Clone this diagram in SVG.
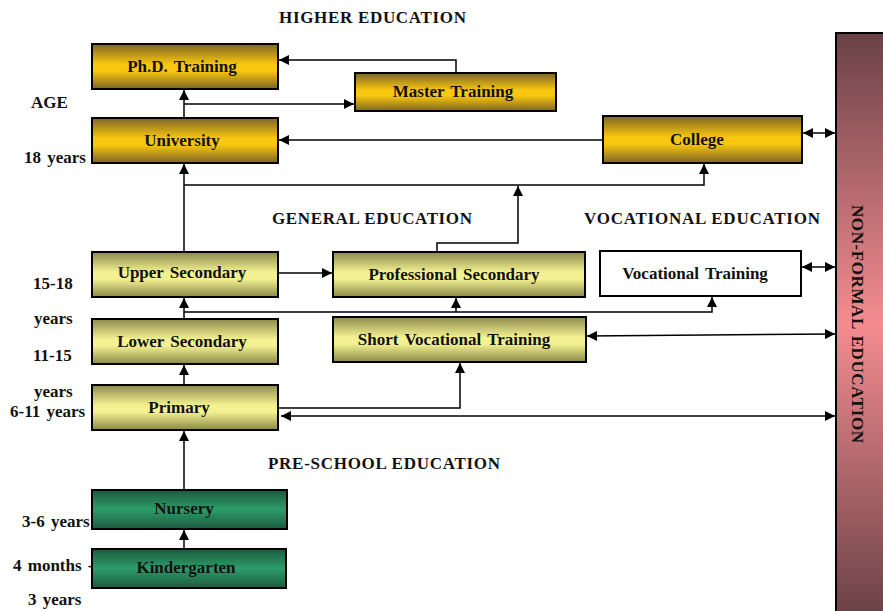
<svg xmlns="http://www.w3.org/2000/svg" width="883" height="611" viewBox="0 0 883 611">
  <defs>
    <linearGradient id="gold" x1="0" y1="0" x2="0" y2="1">
      <stop offset="0" stop-color="#7d6426"/>
      <stop offset="0.45" stop-color="#f8c70f"/>
      <stop offset="0.6" stop-color="#f8c70f"/>
      <stop offset="1" stop-color="#7d6426"/>
    </linearGradient>
    <linearGradient id="lime" x1="0" y1="0" x2="0" y2="1">
      <stop offset="0" stop-color="#8c8a4c"/>
      <stop offset="0.45" stop-color="#f3f192"/>
      <stop offset="0.6" stop-color="#f3f192"/>
      <stop offset="1" stop-color="#8a8848"/>
    </linearGradient>
    <linearGradient id="green" x1="0" y1="0" x2="0" y2="1">
      <stop offset="0" stop-color="#1d5a3e"/>
      <stop offset="0.5" stop-color="#2d9c68"/>
      <stop offset="1" stop-color="#1d5a3e"/>
    </linearGradient>
    <linearGradient id="pink" x1="0" y1="0" x2="0" y2="1">
      <stop offset="0" stop-color="#6a4247"/>
      <stop offset="0.5" stop-color="#f48c90"/>
      <stop offset="1" stop-color="#6a4247"/>
    </linearGradient>
    <marker id="ah" viewBox="0 0 10 10" refX="10" refY="5" markerWidth="10" markerHeight="10" markerUnits="userSpaceOnUse" orient="auto-start-reverse">
      <path d="M0,0 L10,5 L0,10 z" fill="#000"/>
    </marker>
    <style>
      .box { stroke: #000; stroke-width: 2; }
      .lbl { font-family: "Liberation Serif", "Times New Roman", serif; font-weight: bold; font-size: 17px; fill: #111; text-anchor: middle; dominant-baseline: central; word-spacing: 2px; }
      .age { font-family: "Liberation Serif", "Times New Roman", serif; font-weight: bold; font-size: 17px; fill: #111; word-spacing: 2px; }
      .sec { font-family: "Liberation Serif", "Times New Roman", serif; font-weight: bold; font-size: 17px; fill: #111; }
      .ln { fill: none; stroke: #000; stroke-width: 1.5; }
    </style>
  </defs>

  <rect width="883" height="611" fill="#fff"/>

  <!-- section headings -->
  <text class="sec" x="279" y="23" textLength="187">HIGHER EDUCATION</text>
  <text class="sec" x="272" y="224" textLength="200">GENERAL EDUCATION</text>
  <text class="sec" x="584" y="224" textLength="236">VOCATIONAL EDUCATION</text>
  <text class="sec" x="268" y="469" textLength="232">PRE-SCHOOL EDUCATION</text>

  <!-- age column -->
  <text class="age" x="31" y="108">AGE</text>
  <text class="age" x="24" y="163">18 years</text>
  <text class="age" x="33" y="289">15-18</text>
  <text class="age" x="34" y="324">years</text>
  <text class="age" x="33" y="361">11-15</text>
  <text class="age" x="34" y="397">years</text>
  <text class="age" x="10" y="417">6-11 years</text>
  <text class="age" x="22" y="527">3-6 years</text>
  <text class="age" x="13" y="571" word-spacing="0">4 months -</text>
  <text class="age" x="28" y="605">3 years</text>

  <!-- connectors -->
  <g id="connectors">
    <polyline class="ln" points="456,73 456,60 279,60" marker-end="url(#ah)"/>
    <line class="ln" x1="184" y1="118" x2="184" y2="90" marker-end="url(#ah)"/>
    <polyline class="ln" points="184,104 354,104" marker-end="url(#ah)"/>
    <line class="ln" x1="603" y1="140" x2="279" y2="140" marker-end="url(#ah)"/>
    <line class="ln" x1="184" y1="252" x2="184" y2="164" marker-end="url(#ah)"/>
    <polyline class="ln" points="184,185 704,185 704,164" marker-end="url(#ah)"/>
    <polyline class="ln" points="437,252 437,243 518,243 518,186" marker-end="url(#ah)"/>
    <line class="ln" x1="278" y1="273" x2="332" y2="273" marker-end="url(#ah)"/>
    <line class="ln" x1="184" y1="319" x2="184" y2="298" marker-end="url(#ah)"/>
    <polyline class="ln" points="184,312 712,312 712,297" marker-end="url(#ah)"/>
    <line class="ln" x1="456" y1="312" x2="456" y2="298" marker-end="url(#ah)"/>
    <line class="ln" x1="184" y1="385" x2="184" y2="365" marker-end="url(#ah)"/>
    <polyline class="ln" points="278,408 460,408 460,363" marker-end="url(#ah)"/>
    <line class="ln" x1="281" y1="416" x2="835" y2="416" marker-start="url(#ah)" marker-end="url(#ah)"/>
    <line class="ln" x1="587" y1="336" x2="835" y2="334" marker-start="url(#ah)" marker-end="url(#ah)"/>
    <line class="ln" x1="803" y1="133" x2="835" y2="133" marker-start="url(#ah)" marker-end="url(#ah)"/>
    <line class="ln" x1="802" y1="267" x2="835" y2="267" marker-start="url(#ah)" marker-end="url(#ah)"/>
    <line class="ln" x1="184" y1="490" x2="184" y2="431" marker-end="url(#ah)"/>
    <line class="ln" x1="184" y1="549" x2="184" y2="530" marker-end="url(#ah)"/>
  </g>

  <!-- higher education -->
  <g id="phd">
    <rect class="box" x="92" y="44" width="186" height="45" fill="url(#gold)"/>
    <text class="lbl" x="182" y="66">Ph.D. Training</text>
  </g>
  <g id="master">
    <rect class="box" x="355" y="73" width="201" height="38" fill="url(#gold)"/>
    <text class="lbl" x="453" y="91">Master Training</text>
  </g>
  <g id="university">
    <rect class="box" x="92" y="118" width="186" height="45" fill="url(#gold)"/>
    <text class="lbl" x="182" y="140">University</text>
  </g>
  <g id="college">
    <rect class="box" x="603" y="116" width="199" height="47" fill="url(#gold)"/>
    <text class="lbl" x="697" y="139">College</text>
  </g>

  <!-- general and vocational education -->
  <g id="upper-secondary">
    <rect class="box" x="92" y="252" width="186" height="45" fill="url(#lime)"/>
    <text class="lbl" x="182" y="272">Upper Secondary</text>
  </g>
  <g id="professional-secondary">
    <rect class="box" x="333" y="252" width="252" height="45" fill="url(#lime)"/>
    <text class="lbl" x="454" y="274">Professional Secondary</text>
  </g>
  <g id="vocational-training">
    <rect class="box" x="600" y="251" width="201" height="45" fill="#fff"/>
    <text class="lbl" x="695" y="273">Vocational Training</text>
  </g>
  <g id="lower-secondary">
    <rect class="box" x="92" y="319" width="186" height="45" fill="url(#lime)"/>
    <text class="lbl" x="182" y="341">Lower Secondary</text>
  </g>
  <g id="short-vocational">
    <rect class="box" x="333" y="317" width="253" height="45" fill="url(#lime)"/>
    <text class="lbl" x="454" y="339">Short Vocational Training</text>
  </g>
  <g id="primary">
    <rect class="box" x="92" y="385" width="186" height="45" fill="url(#lime)"/>
    <text class="lbl" x="179" y="407">Primary</text>
  </g>

  <!-- pre-school -->
  <g id="nursery">
    <rect class="box" x="92" y="490" width="195" height="39" fill="url(#green)"/>
    <text class="lbl" x="184" y="508">Nursery</text>
  </g>
  <g id="kindergarten">
    <rect class="box" x="92" y="549" width="194" height="39" fill="url(#green)"/>
    <text class="lbl" x="186" y="567">Kindergarten</text>
  </g>

  <!-- non-formal education band -->
  <g id="non-formal">
    <rect x="836" y="33" width="50" height="582" fill="url(#pink)" stroke="#000" stroke-width="2"/>
    <text class="lbl" transform="translate(857,324) rotate(90)" x="0" y="0" textLength="238">NON-FORMAL EDUCATION</text>
  </g>
</svg>
